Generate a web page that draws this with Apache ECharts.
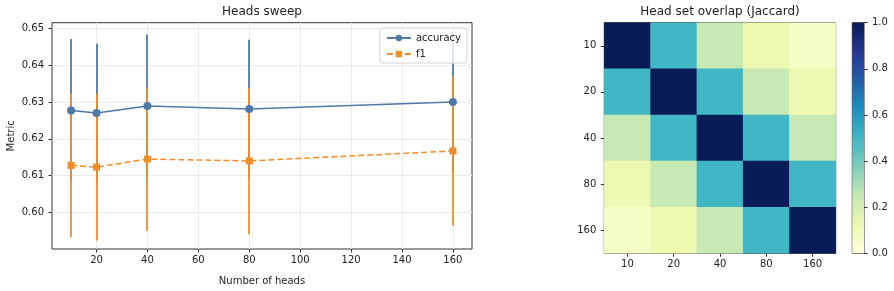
<!DOCTYPE html>
<html>
<head>
<meta charset="utf-8">
<script src="https://cdn.jsdelivr.net/npm/echarts@6/dist/echarts.min.js"></script>
<style>
  html, body { margin: 0; padding: 0; background: #fff; }
  #main { width: 894px; height: 291px; }
</style>
</head>
<body>
<div id="main"></div>
<script>
// heads sweep + jaccard overlap

var heads = [10, 20, 40, 80, 160];
var accMean = [0.6277, 0.6270, 0.6289, 0.6281, 0.6300];
var accErr = [0.0194, 0.0188, 0.0194, 0.0188, 0.0190];
var f1Mean = [0.6128, 0.6123, 0.6145, 0.6140, 0.6167];
var f1Err = [0.0195, 0.0199, 0.0195, 0.0199, 0.0203];

var xTicks = [20, 40, 60, 80, 100, 120, 140, 160];
var yTicks = [0.60, 0.61, 0.62, 0.63, 0.64, 0.65];

var headLabels = ['10', '20', '40', '80', '160'];
var jaccard = [
    [1.0, 0.5, 0.25, 0.125, 0.0625],
    [0.5, 1.0, 0.5, 0.25, 0.125],
    [0.25, 0.5, 1.0, 0.5, 0.25],
    [0.125, 0.25, 0.5, 1.0, 0.5],
    [0.0625, 0.125, 0.25, 0.5, 1.0]
];

var ylgnbu = ['#ffffd9', '#edf8b1', '#c7e9b4', '#7fcdbb', '#41b6c4', '#1d91c0', '#225ea8', '#253494', '#081d58'];

var BLUE = '#4e79a7';
var ORANGE = '#f28e2b';
var FONT = 'DejaVu Sans';
var txt = { fontFamily: FONT, fontSize: 10, color: '#222' };

var accLine = [], f1Line = [], accBars = [], f1Bars = [];
for (var i = 0; i < heads.length; i++) {
    accLine.push([heads[i], accMean[i]]);
    f1Line.push([heads[i], f1Mean[i]]);
    accBars.push([heads[i], accMean[i] - accErr[i], accMean[i] + accErr[i]]);
    f1Bars.push([heads[i], f1Mean[i] - f1Err[i], f1Mean[i] + f1Err[i]]);
}

var heatData = [];
for (var r = 0; r < jaccard.length; r++) {
    for (var c = 0; c < jaccard[r].length; c++) {
        heatData.push([c, r, jaccard[r][c]]);
    }
}

function errBar(color) {
    return function (params, api) {
        var a = api.coord([api.value(0), api.value(1)]);
        var b = api.coord([api.value(0), api.value(2)]);
        var x = Math.round(a[0]);
        return {
            type: 'line',
            shape: { x1: x, y1: a[1], x2: x, y2: b[1] },
            style: { stroke: color, lineWidth: 1.8, opacity: 1 }
        };
    };
}

var stops = [];
for (var k = 0; k < ylgnbu.length; k++) {
    stops.push({ offset: k / (ylgnbu.length - 1), color: ylgnbu[k] });
}

var chart = echarts.init(document.getElementById('main'), null, { renderer: 'canvas' });

var option = {
    animation: false,
    textStyle: { fontFamily: FONT },
    graphic: [
        { type: 'text', x: 262, y: 12, style: { text: 'Heads sweep', font: '12px "DejaVu Sans"', fill: '#222', textAlign: 'center', textVerticalAlign: 'middle' } },
        { type: 'text', x: 720, y: 12, style: { text: 'Head set overlap (Jaccard)', font: '12px "DejaVu Sans"', fill: '#222', textAlign: 'center', textVerticalAlign: 'middle' } }
    ],
    legend: {
        orient: 'vertical',
        right: 427,
        top: 28,
        padding: [5, 6, 4, 6],
        itemGap: 6,
        itemWidth: 24,
        itemHeight: 8,
        borderColor: '#d5d5d5',
        borderWidth: 1,
        borderRadius: 3,
        backgroundColor: 'rgba(255,255,255,0.8)',
        textStyle: txt,
        data: ['accuracy', 'f1'],
        z: 10
    },
    grid: [
        { left: 52, right: 422, top: 22.7, bottom: 38, show: true, borderColor: '#333', borderWidth: 1, backgroundColor: 'transparent' },
        { left: 604.3, right: 58.3, top: 22.7, bottom: 37.7, show: true, borderColor: '#333', borderWidth: 1 },
        { left: 852.3, right: 30, top: 22.7, bottom: 37.7, show: true, borderColor: '#333', borderWidth: 1 }
    ],
    xAxis: [
        {
            type: 'value', gridIndex: 0, min: 2.5, max: 167.5,
            name: 'Number of heads', nameLocation: 'middle', nameGap: 27,
            nameTextStyle: txt,
            axisLine: { show: false },
            axisTick: { show: true, length: 3.5, customValues: xTicks, lineStyle: { color: '#333' } },
            axisLabel: Object.assign({ margin: 6, customValues: xTicks }, txt),
            splitLine: { show: false }
        },
        {
            type: 'category', gridIndex: 1, data: headLabels,
            axisLine: { show: false },
            axisTick: { show: true, length: 3.5, alignWithLabel: true, lineStyle: { color: '#333' } },
            axisLabel: Object.assign({ margin: 6 }, txt),
            splitLine: { show: false }
        },
        {
            type: 'category', gridIndex: 2, data: ['c'],
            show: false
        }
    ],
    yAxis: [
        {
            type: 'value', gridIndex: 0, min: 0.5901, max: 0.6515,
            name: 'Metric', nameLocation: 'middle', nameGap: 36, nameRotate: 90,
            nameTextStyle: txt,
            axisLine: { show: false },
            axisTick: { show: true, length: 3.5, customValues: yTicks, lineStyle: { color: '#333' } },
            axisLabel: Object.assign({ margin: 8, customValues: yTicks, formatter: function (v) { return v.toFixed(2); } }, txt),
            splitLine: { show: false }
        },
        {
            type: 'category', gridIndex: 1, data: headLabels, inverse: true,
            axisLine: { show: false },
            axisTick: { show: true, length: 3.5, alignWithLabel: true, lineStyle: { color: '#333' } },
            axisLabel: Object.assign({ margin: 8 }, txt),
            splitLine: { show: false }
        },
        {
            type: 'value', gridIndex: 2, min: 0, max: 1, interval: 0.2, position: 'right',
            axisLine: { show: false },
            axisTick: { show: true, length: 3.5, lineStyle: { color: '#333' } },
            axisLabel: Object.assign({ margin: 8, formatter: function (v) { return v.toFixed(1); } }, txt),
            splitLine: { show: false }
        }
    ],
    visualMap: {
        show: false,
        type: 'continuous',
        seriesIndex: 5,
        min: 0, max: 1,
        dimension: 2,
        inRange: { color: ylgnbu }
    },
    series: [
        {
            // grid lines, left panel
            type: 'line', xAxisIndex: 0, yAxisIndex: 0, data: [], silent: true, z: 0,
            markLine: {
                silent: true, symbol: 'none', label: { show: false }, z: 0,
                lineStyle: { color: '#ebebeb', width: 1, type: 'solid' },
                data: xTicks.map(function (v) { return { xAxis: v }; })
                    .concat(yTicks.map(function (v) { return { yAxis: v }; }))
            }
        },
        {
            name: 'accuracy-err', type: 'custom', xAxisIndex: 0, yAxisIndex: 0,
            renderItem: errBar(BLUE), data: accBars, encode: { x: 0, y: [1, 2] }, clip: false, z: 2
        },
        {
            name: 'f1-err', type: 'custom', xAxisIndex: 0, yAxisIndex: 0,
            renderItem: errBar(ORANGE), data: f1Bars, encode: { x: 0, y: [1, 2] }, clip: false, z: 3
        },
        {
            name: 'accuracy', type: 'line', xAxisIndex: 0, yAxisIndex: 0, data: accLine,
            color: BLUE, symbol: 'circle', symbolSize: 8,
            lineStyle: { color: BLUE, width: 1.5 },
            itemStyle: { color: BLUE }, z: 4
        },
        {
            name: 'f1', type: 'line', xAxisIndex: 0, yAxisIndex: 0, data: f1Line,
            color: ORANGE, symbol: 'rect', symbolSize: 7,
            lineStyle: { color: ORANGE, width: 1.5, type: [6, 3] },
            itemStyle: { color: ORANGE }, z: 5
        },
        {
            type: 'heatmap', xAxisIndex: 1, yAxisIndex: 1, data: heatData,
            itemStyle: { borderWidth: 0 }
        },
        {
            type: 'bar', xAxisIndex: 2, yAxisIndex: 2, data: [1], barWidth: '100%',
            itemStyle: {
                color: new echarts.graphic.LinearGradient(0, 1, 0, 0, stops)
            }
        }
    ]
};

chart.setOption(option);
</script>
</body>
</html>
